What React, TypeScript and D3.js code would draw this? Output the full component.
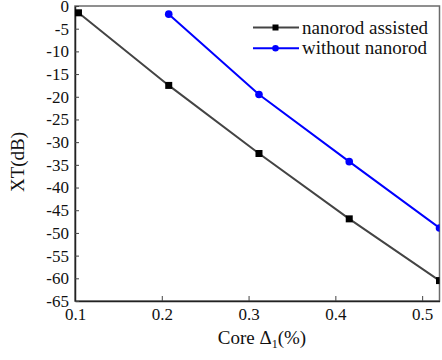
import { useEffect, useRef } from "react";
import * as d3 from "d3";

const coreDelta = [0.104, 0.208, 0.312, 0.416, 0.52];
const nanorodAssisted = [-1.5, -17.5, -32.5, -46.9, -60.5];
const withoutCore = [0.208, 0.312, 0.416, 0.52];
const withoutNanorod = [-1.8, -19.5, -34.3, -48.9];
const xTicks = [0.1, 0.2, 0.3, 0.4, 0.5];
const yTicks = [0, -5, -10, -15, -20, -25, -30, -35, -40, -45, -50, -55, -60, -65];

const FONT = "Liberation Serif, Times New Roman, serif";

const App = () => {
  const svgRef = useRef<SVGSVGElement>(null);

  useEffect(() => {
    const svg = d3.select(svgRef.current);
    svg.selectAll("*").remove();

    const width = 442;
    const height = 360;
    const margin = { top: 6, right: 2.5, bottom: 59, left: 75 };

    const x = d3.scaleLinear().domain([0.1, 0.52]).range([margin.left, width - margin.right]);
    const y = d3.scaleLinear().domain([-65, 0]).range([height - margin.bottom, margin.top]);

    svg.append("defs")
      .append("clipPath")
      .attr("id", "plot-clip")
      .append("rect")
      .attr("x", margin.left)
      .attr("y", margin.top - 6)
      .attr("width", width - margin.right - margin.left)
      .attr("height", height - margin.bottom - margin.top + 6);

    // frame
    svg.append("rect")
      .attr("x", margin.left)
      .attr("y", margin.top)
      .attr("width", width - margin.right - margin.left)
      .attr("height", height - margin.bottom - margin.top)
      .attr("fill", "none")
      .attr("stroke", "#6b6b6b")
      .attr("stroke-width", 1.5);

    const xAxis = svg.append("g")
      .attr("transform", `translate(0,${height - margin.bottom})`)
      .call(d3.axisBottom(x).tickValues(xTicks).tickSizeInner(-5).tickSizeOuter(0).tickPadding(7).tickFormat(d3.format(".1f")));
    xAxis.attr("font-family", null).attr("font-size", null);
    xAxis.select(".domain").attr("stroke", "#222").attr("stroke-width", 1.5);
    xAxis.selectAll(".tick line").attr("stroke", "#444");
    xAxis.selectAll("text").style("font-family", FONT).style("font-size", "17px").attr("fill", "#111");

    const yAxis = svg.append("g")
      .attr("transform", `translate(${margin.left},0)`)
      .call(d3.axisLeft(y).tickValues(yTicks).tickSizeInner(-4).tickSizeOuter(0).tickPadding(6).tickFormat(d => `${d}`));
    yAxis.attr("font-family", null).attr("font-size", null);
    yAxis.select(".domain").attr("stroke", "#222").attr("stroke-width", 1.5);
    yAxis.selectAll(".tick line").attr("stroke", "#444");
    yAxis.selectAll("text").style("font-family", FONT).style("font-size", "17px").attr("fill", "#111");

    const line = d3.line<[number, number]>().x(d => x(d[0])).y(d => y(d[1]));
    const plot = svg.append("g").attr("clip-path", "url(#plot-clip)");

    const assisted = coreDelta.map((c, i) => [c, nanorodAssisted[i]] as [number, number]);
    const without = withoutCore.map((c, i) => [c, withoutNanorod[i]] as [number, number]);

    plot.append("path").datum(assisted).attr("d", line).attr("fill", "none").attr("stroke", "#444").attr("stroke-width", 2);
    plot.append("path").datum(without).attr("d", line).attr("fill", "none").attr("stroke", "#0000ff").attr("stroke-width", 2);

    plot.selectAll("rect.sq")
      .data(assisted)
      .join("rect")
      .attr("class", "sq")
      .attr("x", d => x(d[0]) - 3.5)
      .attr("y", d => y(d[1]) - 3.5)
      .attr("width", 7)
      .attr("height", 7)
      .attr("fill", "#000");

    plot.selectAll("circle.dot")
      .data(without)
      .join("circle")
      .attr("class", "dot")
      .attr("cx", d => x(d[0]))
      .attr("cy", d => y(d[1]))
      .attr("r", 3.8)
      .attr("fill", "#0000ff");

    // legend
    const legend = [
      { label: "nanorod assisted", color: "#444", marker: "square" },
      { label: "without nanorod", color: "#0000ff", marker: "circle" }
    ];
    legend.forEach((item, i) => {
      const ly = 27.5 + i * 20.7;
      const g = svg.append("g");
      g.append("line").attr("x1", 253).attr("x2", 299).attr("y1", ly).attr("y2", ly)
        .attr("stroke", item.color).attr("stroke-width", 2);
      if (item.marker === "square") {
        g.append("rect").attr("x", 272.5).attr("y", ly - 3).attr("width", 6).attr("height", 6).attr("fill", "#000");
      } else {
        g.append("circle").attr("cx", 275.5).attr("cy", ly).attr("r", 3.3).attr("fill", "#0000ff");
      }
      g.append("text").attr("x", 302).attr("y", ly + 6)
        .style("font-family", FONT).style("font-size", "19px").attr("fill", "#111")
        .text(item.label);
    });

    // axis titles
    const xt = svg.append("text")
      .attr("x", 262)
      .attr("y", 344)
      .attr("text-anchor", "middle")
      .style("font-family", FONT)
      .style("font-size", "19px")
      .attr("fill", "#111");
    xt.append("tspan").text("Core \u0394");
    xt.append("tspan").style("font-size", "12px").attr("dy", 4).text("1");
    xt.append("tspan").attr("dy", -4).text("(%)");

    svg.append("text")
      .attr("transform", `translate(24,162) rotate(-90)`)
      .attr("text-anchor", "middle")
      .style("font-family", FONT)
      .style("font-size", "19px")
      .attr("fill", "#111")
      .text("XT(dB)");
  }, []);

  return (
    <svg
      ref={svgRef}
      width={442}
      height={360}
      style={{ position: "absolute", left: 0, top: 0, background: "#fff" }}
    ></svg>
  );
};

export default App;
